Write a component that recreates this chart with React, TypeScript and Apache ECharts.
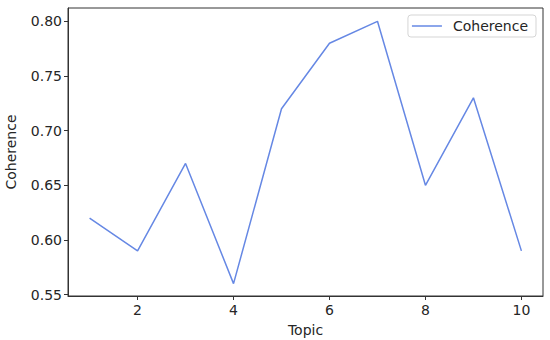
import React, { useEffect, useRef } from "react";
import * as echarts from "echarts";

const topics = [1, 2, 3, 4, 5, 6, 7, 8, 9, 10];
const coherence = [0.62, 0.59, 0.67, 0.56, 0.72, 0.78, 0.8, 0.65, 0.73, 0.59];
const xTicks = [2, 4, 6, 8, 10];
const yTicks = [0.55, 0.6, 0.65, 0.7, 0.75, 0.8];

const FONT = "DejaVu Sans";
const FS = 14;

export default function App() {
  const ref = useRef<HTMLDivElement>(null);
  useEffect(() => {
    if (!ref.current) return;
    const chart = echarts.init(ref.current, null, { renderer: "svg" });
    chart.setOption({
      animation: false,
      backgroundColor: "#ffffff",
      grid: {
        left: 68,
        right: 7,
        top: 8,
        bottom: 44,
        outerBoundsMode: "none",
        containLabel: false,
        show: true,
        borderColor: "#333333",
        borderWidth: 1,
      },
      legend: {
        data: ["Coherence"],
        right: 14,
        top: 15,
        orient: "vertical",
        itemWidth: 30,
        itemHeight: 12,
        itemGap: 8,
        padding: [4, 8, 4, 4],
        borderColor: "#d5d5d5",
        borderWidth: 1,
        borderRadius: 3,
        icon: "path://M0,5 L30,5 L30,6.5 L0,6.5 Z",
        textStyle: { fontFamily: FONT, fontSize: FS, color: "#262626", padding: [0, 0, 0, 6] },
      },
      xAxis: {
        type: "value",
        min: 0.55,
        max: 10.45,
        name: "Topic",
        nameLocation: "middle",
        nameGap: 27,
        nameTextStyle: { fontFamily: FONT, fontSize: FS, color: "#262626" },
        splitLine: { show: false },
        axisLine: { show: true, lineStyle: { color: "#333333", width: 1 } },
        axisTick: {
          show: true,
          length: 4,
          inside: false,
          customValues: xTicks,
          lineStyle: { color: "#333333" },
        },
        axisLabel: {
          customValues: xTicks,
          fontFamily: FONT,
          fontSize: FS,
          color: "#262626",
          margin: 7,
        },
      },
      yAxis: {
        type: "value",
        min: 0.5487,
        max: 0.8122,
        name: "Coherence",
        nameLocation: "middle",
        nameGap: 50,
        nameRotate: 90,
        nameTextStyle: { fontFamily: FONT, fontSize: FS, color: "#262626" },
        splitLine: { show: false },
        axisLine: { show: true, lineStyle: { color: "#333333", width: 1 } },
        axisTick: {
          show: true,
          length: 4,
          inside: false,
          customValues: yTicks,
          lineStyle: { color: "#333333" },
        },
        axisLabel: {
          customValues: yTicks,
          fontFamily: FONT,
          fontSize: FS,
          color: "#262626",
          margin: 6,
          formatter: (v: number) => v.toFixed(2),
        },
      },
      series: [
        {
          name: "Coherence",
          type: "line",
          data: topics.map((t, i) => [t, coherence[i]]),
          showSymbol: false,
          symbol: "none",
          lineStyle: { color: "#6688e4", width: 1.5 },
          itemStyle: { color: "#6688e4" },
        },
      ],
    });
    return () => chart.dispose();
  }, []);
  return <div ref={ref} style={{ width: 550, height: 340, position: "absolute", left: 0, top: 0 }} />;
}
